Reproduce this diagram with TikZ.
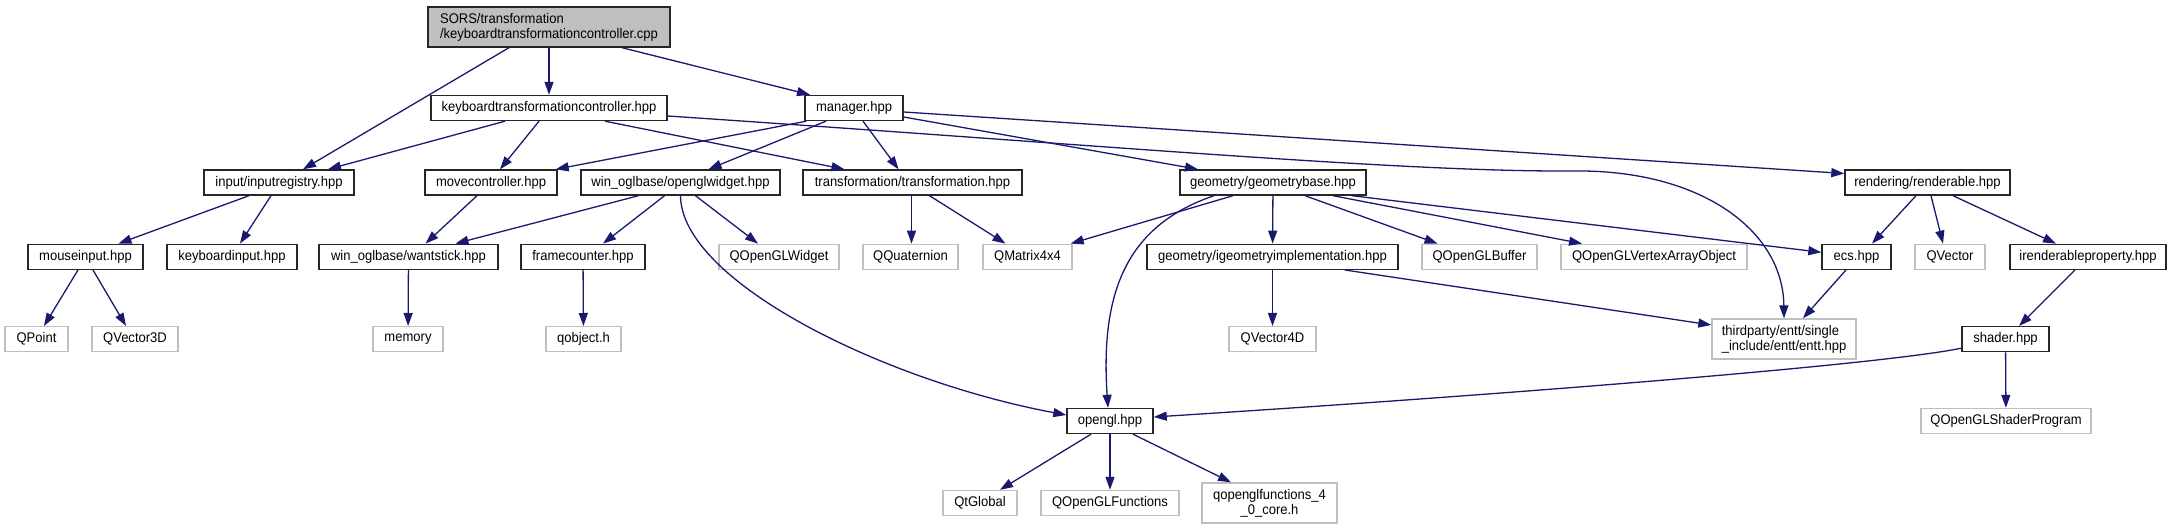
\documentclass[tikz,border=0pt]{standalone}
\usepackage{fontspec}
\setmainfont[FakeStretch=0.93]{Liberation Sans}
\usetikzlibrary{arrows.meta}
\definecolor{mblue}{RGB}{25,25,112}
\definecolor{gray75}{RGB}{191,191,191}
\newcommand{\dxfont}{\fontsize{14pt}{15pt}\selectfont}
\tikzset{
  doc/.style={draw=black!85, line width=1.4pt, fill=white, minimum height=25pt, inner sep=0pt, font=\dxfont},
  ext/.style={doc, draw=gray75},
  rootbox/.style={doc, fill=gray75, minimum height=40pt, align=left},
  twoline/.style={minimum height=40pt},
  dep/.style={draw=mblue, line width=1.3pt, -{Triangle[length=13pt,width=9pt]}},
}
\begin{document}
\begin{tikzpicture}[x=1pt,y=-1pt]
\useasboundingbox (0,0) rectangle (2171,529);
% row A
\node[rootbox, minimum width=242pt] (root) at (549,27) {SORS/transformation\\/keyboardtransformationcontroller.cpp};
% row B
\node[doc, minimum width=236pt] (kbh) at (549,108) {keyboardtransformationcontroller.hpp};
\node[doc, minimum width=98pt] (mgr) at (854,108) {manager.hpp};
% row C
\node[doc, minimum width=150pt] (inreg) at (279,182.5) {input/inputregistry.hpp};
\node[doc, minimum width=132pt] (movec) at (491,182.5) {movecontroller.hpp};
\node[doc, minimum width=199pt] (oglw) at (680.5,182.5) {win\_oglbase/openglwidget.hpp};
\node[doc, minimum width=219pt] (transf) at (912.5,182.5) {transformation/transformation.hpp};
\node[doc, minimum width=186pt] (geom) at (1273,182.5) {geometry/geometrybase.hpp};
\node[doc, minimum width=165pt] (rend) at (1927.5,182.5) {rendering/renderable.hpp};
% row D
\node[doc, minimum width=115pt] (mouse) at (85.5,256.8) {mouseinput.hpp};
\node[doc, minimum width=130pt] (kbin) at (232,256.8) {keyboardinput.hpp};
\node[doc, minimum width=179pt] (want) at (408.5,256.8) {win\_oglbase/wantstick.hpp};
\node[doc, minimum width=124pt] (fcount) at (583,256.8) {framecounter.hpp};
\node[ext, minimum width=120pt] (qglw) at (779,256.8) {QOpenGLWidget};
\node[ext, minimum width=95pt] (qquat) at (910.5,256.8) {QQuaternion};
\node[ext, minimum width=89pt] (qmat) at (1027.5,256.8) {QMatrix4x4};
\node[doc, minimum width=251pt] (igeom) at (1272.5,256.8) {geometry/igeometryimplementation.hpp};
\node[ext, minimum width=115pt] (qbuf) at (1479.5,256.8) {QOpenGLBuffer};
\node[ext, minimum width=186pt] (qvao) at (1654,256.8) {QOpenGLVertexArrayObject};
\node[doc, minimum width=69pt] (ecs) at (1856.5,256.8) {ecs.hpp};
\node[ext, minimum width=70pt] (qvec) at (1950,256.8) {QVector};
\node[doc, minimum width=156pt] (irp) at (2088,256.8) {irenderableproperty.hpp};
% row E
\node[ext, minimum width=63pt] (qpoint) at (36.5,339.2) {QPoint};
\node[ext, minimum width=86pt] (qv3) at (135,339.2) {QVector3D};
\node[ext, minimum width=70pt] (memory) at (408,339.2) {memory};
\node[ext, minimum width=75pt] (qobj) at (583.5,339.2) {qobject.h};
\node[ext, minimum width=87pt] (qv4) at (1272.5,339.2) {QVector4D};
\node[ext, twoline, align=left, minimum width=144pt] (entt) at (1784,339) {thirdparty/entt/single\\\_include/entt/entt.hpp};
\node[doc, minimum width=87pt] (shader) at (2005.5,339.2) {shader.hpp};
% row F
\node[doc, minimum width=86pt] (ogl) at (1110,421) {opengl.hpp};
\node[ext, minimum width=170pt] (qosp) at (2006,421) {QOpenGLShaderProgram};
% row G
\node[ext, minimum width=74pt] (qtglobal) at (980,503) {QtGlobal};
\node[ext, minimum width=138pt] (qoglf) at (1110,503) {QOpenGLFunctions};
\node[ext, twoline, align=center, minimum width=135pt] (qogl4) at (1269.5,503) {qopenglfunctions\_4\\\_0\_core.h};
% edges
\draw[dep] ([xshift=-40pt]root.south) -- ([xshift=24pt]inreg.north);
\draw[dep] (root) -- (kbh);
\draw[dep] ([xshift=73pt]root.south) -- ([xshift=-44pt]mgr.north);
\draw[dep] ([xshift=-44pt]kbh.south) -- ([xshift=49pt]inreg.north);
\draw[dep] ([xshift=-10pt]kbh.south) -- ([xshift=9pt]movec.north);
\draw[dep] ([xshift=56pt]kbh.south) -- ([xshift=-68pt]transf.north);
\draw[dep] ([yshift=-8pt]kbh.east) .. controls (1100,145) and (1400,172) .. (1572,171) .. controls (1700,169) and (1783,230) .. (entt.north);
\draw[dep] ([xshift=2pt]mgr.south west) -- ([xshift=-2pt]movec.north east);
\draw[dep] ([xshift=-28pt]mgr.south) -- ([xshift=28pt]oglw.north);
\draw[dep] ([xshift=9pt]mgr.south) -- ([xshift=-14pt]transf.north);
\draw[dep] ([yshift=-9pt]mgr.east) -- ([xshift=-75pt]geom.north);
\draw[dep] ([yshift=-4pt]mgr.east) -- ([yshift=9pt]rend.west);
\draw[dep] ([xshift=-30pt]inreg.south) -- ([xshift=33pt]mouse.north);
\draw[dep] ([xshift=-8pt]inreg.south) -- ([xshift=8pt]kbin.north);
\draw[dep] ([xshift=-14pt]movec.south) -- ([xshift=17pt]want.north);
\draw[dep] ([xshift=-42pt]oglw.south) -- ([xshift=47pt]want.north);
\draw[dep] ([xshift=-16pt]oglw.south) -- ([xshift=20pt]fcount.north);
\draw[dep] ([xshift=15pt]oglw.south) -- ([xshift=-21pt]qglw.north);
\draw[dep] (oglw.south) .. controls (681,280) and (880,380) .. ([yshift=6pt]ogl.west);
\draw[dep] ([xshift=-1pt]transf.south) -- ([xshift=1pt]qquat.north);
\draw[dep] ([xshift=17pt]transf.south) -- ([xshift=-22pt]qmat.north);
\draw[dep] ([xshift=-40pt]geom.south) -- ([xshift=-2pt]qmat.north east);
\draw[dep] ([xshift=-59pt]geom.south) .. controls (1128,225) and (1100,290) .. ([xshift=-2pt]ogl.north);
\draw[dep] (geom) -- (igeom);
\draw[dep] ([xshift=32pt]geom.south) -- ([xshift=-42pt]qbuf.north);
\draw[dep] ([xshift=60pt]geom.south) -- ([xshift=-72pt]qvao.north);
\draw[dep] ([xshift=79pt]geom.south) -- ([yshift=4.5pt]ecs.west);
\draw[dep] ([xshift=-11.5pt]rend.south) -- ([xshift=15.5pt]ecs.north);
\draw[dep] ([xshift=3.5pt]rend.south) -- ([xshift=-7pt]qvec.north);
\draw[dep] ([xshift=25.5pt]rend.south) -- ([xshift=-32pt]irp.north);
\draw[dep] ([xshift=-7.5pt]mouse.south) -- ([xshift=7.5pt]qpoint.north);
\draw[dep] ([xshift=7.5pt]mouse.south) -- ([xshift=-9pt]qv3.north);
\draw[dep] (want) -- (memory);
\draw[dep] (fcount) -- (qobj);
\draw[dep] (igeom) -- (qv4);
\draw[dep] ([xshift=72.5pt]igeom.south) -- ([yshift=14pt]entt.west);
\draw[dep] ([xshift=-10.5pt]ecs.south) -- ([xshift=19pt]entt.north);
\draw[dep] ([xshift=-13pt]irp.south) -- ([xshift=13.5pt]shader.north);
\draw[dep] ([yshift=-9pt]shader.west) .. controls (1880,365) and (1500,395) .. ([yshift=4pt]ogl.east);
\draw[dep] (shader) -- (qosp);
\draw[dep] ([xshift=-19pt]ogl.south) -- ([xshift=20pt]qtglobal.north);
\draw[dep] (ogl) -- (qoglf);
\draw[dep] ([xshift=23pt]ogl.south) -- ([xshift=-38.5pt]qogl4.north);
\end{tikzpicture}
\end{document}
